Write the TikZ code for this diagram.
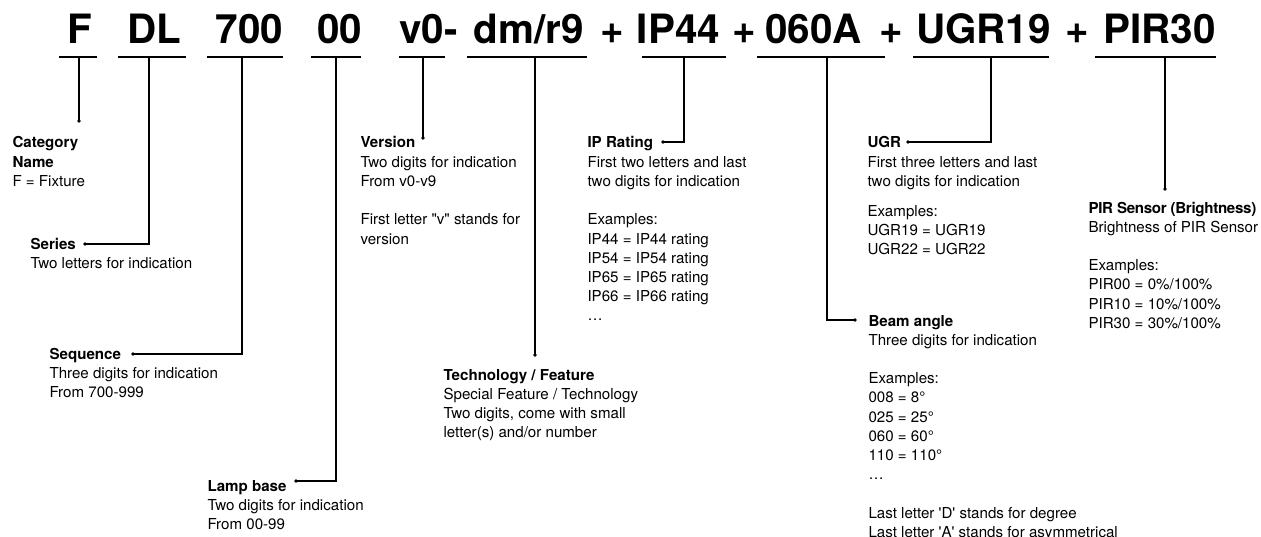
\documentclass[tikz,border=0pt]{standalone}
\usepackage{fontspec}
\setmainfont{TeX Gyre Heros}[Ligatures=TeXOff]
\newcommand{\lines}[1]{\begin{tabular}[t]{@{}l@{}}#1\end{tabular}}

\begin{document}
\begin{tikzpicture}[x=0.02cm,y=-0.02cm,line width=0.6pt,
    code/.style={font=\fontsize{23}{27}\selectfont\bfseries,anchor=base,inner sep=0pt},
    info/.style={font=\fontsize{8.6}{10.94}\selectfont,anchor=base west,inner sep=0pt}]
    \useasboundingbox (0,0) rectangle (1261,537);

    % Code
    \node[code] (cF) at (79.5,44) {F};
    \node[code] (cDL) at (154.5,44) {DL};
    \node[code] (cSeq) at (249.5,44) {700};
    \node[code] (cLamp) at (339.5,44) {00};
    \node[code] (cVer) at (428.5,44) {v0-};
    \node[code] (cTech) at (529,44) {dm/r9};
    \node[code] (p1) at (612.5,44) {+};
    \node[code] (cIP) at (678.5,44) {IP44};
    \node[code] (p2) at (744,44) {+};
    \node[code] (cBeam) at (813.5,44) {060A};
    \node[code] (p3) at (891,44) {+};
    \node[code] (cUGR) at (983.5,44) {UGR19};
    \node[code] (p4) at (1077.5,44) {+};
    \node[code] (cPIR) at (1159.5,44) {PIR30};

    % Underlines
    \draw (59,57) -- (97,57);
    \draw (118,57) -- (186,57);
    \draw (207,57) -- (283,57);
    \draw (311,57) -- (361,57);
    \draw (399,57) -- (445,57);
    \draw (467,57) -- (587,57);
    \draw (642,57) -- (726,57);
    \draw (757,57) -- (885,57);
    \draw (913,57) -- (1049,57);
    \draw (1095,57) -- (1216,57);

    \coordinate (F) at (79,57);
    \coordinate (DL) at (149,57);
    \coordinate (Seq) at (242,57);
    \coordinate (Lamp) at (336,57);
    \coordinate (Ver) at (423,57);
    \coordinate (Tech) at (535,57);
    \coordinate (IP) at (684,57);
    \coordinate (Beam) at (827,57);
    \coordinate (UGR) at (991,57);
    \coordinate (PIR) at (1165,57);

    \coordinate (F1) at (79,121);
    \coordinate (DL1) at (85,244);
    \coordinate (Seq1) at (133,354);
    \coordinate (Lamp1) at (296,481);
    \coordinate (Ver1) at (423,138);
    \coordinate (Tech1) at (535,355);
    \coordinate (IP1) at (663,142);
    \coordinate (Beam1) at (855,320);
    \coordinate (UGR1) at (908,142);
    \coordinate (PIR1) at (1165,189);

    \draw (F) -- (F1);
    \draw (DL) |- (DL1);
    \draw (Seq) |- (Seq1);
    \draw (Lamp) |- (Lamp1);
    \draw (Ver) -- (Ver1);
    \draw (Tech) -- (Tech1);
    \draw (IP) |- (IP1);
    \draw (Beam) |- (Beam1);
    \draw (UGR) |- (UGR1);
    \draw (PIR) -- (PIR1);

    % Points
    \foreach \p in {F1,DL1,Seq1,Lamp1,Ver1,Tech1,IP1,Beam1,UGR1,PIR1}
        \fill (\p) circle (1.1pt);

    % Labels
    \node[info] (category) at (12,148) {\lines{\textbf{Category}\\\textbf{Name}\\F = Fixture}};
    \node[info] (series) at (30,249) {\lines{\textbf{Series}\\Two letters for indication}};
    \node[info] (sequence) at (49,359) {\lines{\textbf{Sequence}\\Three digits for indication\\From 700-999}};
    \node[info] (lampbase) at (207,491) {\lines{\textbf{Lamp base}\\Two digits for indication\\From 00-99}};
    \node[info] (version) at (360,148) {\lines{\textbf{Version}\\Two digits for indication\\From v0-v9\\ \\First letter "v" stands for\\version}};
    \node[info] (technology) at (443,380) {\lines{\textbf{Technology / Feature}\\Special Feature / Technology\\Two digits, come with small\\letter(s) and/or number}};
    \node[info] (iprating) at (587,148) {\lines{\textbf{IP Rating}\\First two letters and last\\two digits for indication\\ \\Examples:\\IP44 = IP44 rating\\IP54 = IP54 rating\\IP65 = IP65 rating\\IP66 = IP66 rating\\…}};
    \node[info] (beamangle) at (868,326) {\lines{\textbf{Beam angle}\\Three digits for indication\\ \\Examples:\\008 = 8°\\025 = 25°\\060 = 60°\\110 = 110°\\…\\ \\Last letter 'D' stands for degree\\Last letter 'A' stands for asymmetrical}};
    \node[info] (ugr) at (867,148) {\lines{\textbf{UGR}\\First three letters and last\\two digits for indication\\[6pt]Examples:\\UGR19 = UGR19\\UGR22 = UGR22}};
    \node[info] (pirsensor) at (1088,213) {\lines{\textbf{\addfontfeature{LetterSpace=-2}PIR Sensor (Brightness)}\\Brightness of PIR Sensor\\ \\Examples:\\PIR00 = 0\%/100\%\\PIR10 = 10\%/100\%\\PIR30 = 30\%/100\%}};
\end{tikzpicture}
\end{document}
